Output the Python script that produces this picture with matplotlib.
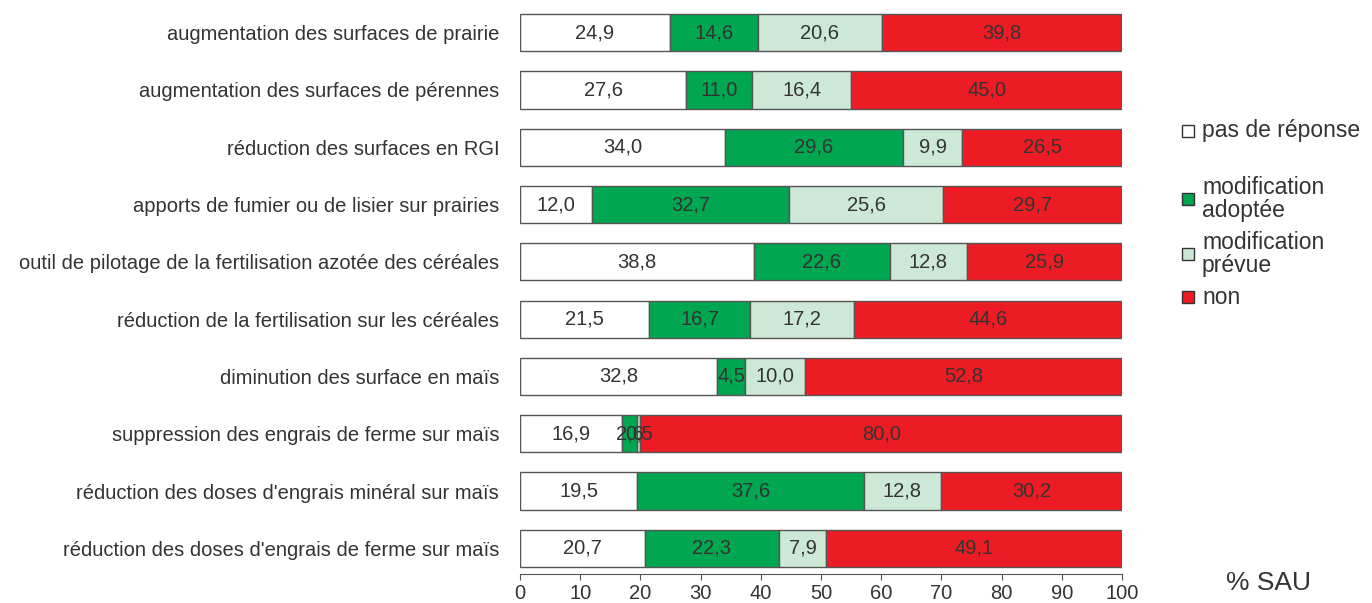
import matplotlib
matplotlib.use("Agg")
import matplotlib.pyplot as plt
import numpy as np

plt.rcParams['font.family'] = ['Liberation Sans', 'DejaVu Sans']

categories = [
    "augmentation des surfaces de prairie",
    "augmentation des surfaces de pérennes",
    "réduction des surfaces en RGI",
    "apports de fumier ou de lisier sur prairies",
    "outil de pilotage de la fertilisation azotée des céréales",
    "réduction de la fertilisation sur les céréales",
    "diminution des surface en maïs",
    "suppression des engrais de ferme sur maïs",
    "réduction des doses d'engrais minéral sur maïs",
    "réduction des doses d'engrais de ferme sur maïs",
]
pas_de_reponse = [24.9, 27.6, 34.0, 12.0, 38.8, 21.5, 32.8, 16.9, 19.5, 20.7]
adoptee = [14.6, 11.0, 29.6, 32.7, 22.6, 16.7, 4.5, 2.6, 37.6, 22.3]
prevue = [20.6, 16.4, 9.9, 25.6, 12.8, 17.2, 10.0, 0.5, 12.8, 7.9]
non = [39.8, 45.0, 26.5, 29.7, 25.9, 44.6, 52.8, 80.0, 30.2, 49.1]

series = [
    ("pas de réponse", pas_de_reponse, "#FFFFFF"),
    ("modification\nadoptée", adoptee, "#00A650"),
    ("modification\nprévue", prevue, "#CDE8D6"),
    ("non", non, "#ED1C24"),
]

fig = plt.figure(figsize=(13.72, 6.03), dpi=100)
ax = fig.add_axes([520/1372, 1-577/603, (1122-520)/1372, (577-4)/603])

y = np.arange(len(categories))
left = np.zeros(len(categories))
for name, vals, col in series:
    vals = np.array(vals)
    ax.barh(y, vals, left=left, height=0.65, color=col, edgecolor="#555555", linewidth=1.0)
    for yi, l, v in zip(y, left, vals):
        ax.text(l + v/2, yi, f"{v:.1f}".replace(".", ","), ha="center", va="center",
                fontsize=14.5, color="#333333")
    left = left + vals

ax.set_xlim(0, 100)
ax.set_ylim(9.5, -0.5)
ax.set_yticks(y)
ax.set_yticklabels(categories, fontsize=14.5, color="#333333")
ax.tick_params(axis="y", length=0, pad=15)
ax.set_xticks(np.arange(0, 101, 10))
ax.tick_params(axis="x", labelsize=14.5, labelcolor="#333333", color="#555555", length=4, pad=3)
for s in ["top", "right", "left"]:
    ax.spines[s].set_visible(False)
ax.spines["bottom"].set_color("#555555")
ax.spines["bottom"].set_position(("outward", -2))

fig.text(1268/1372, 1-583/603, "% SAU", fontsize=19, color="#333333", ha="center", va="center")

leg_y = [131, 199, 254, 297]
for (name, vals, col), ly in zip(series, leg_y):
    fig.patches.append(plt.Rectangle((1182/1372, 1-(ly+6)/603), 12/1372, 12/603,
                                     transform=fig.transFigure, facecolor=col,
                                     edgecolor="#333333", linewidth=1.0))
    fig.text(1202/1372, 1-ly/603, name, fontsize=16.5, color="#333333", ha="left", va="center",
             linespacing=1.05)

fig.savefig("out.png", dpi=100)
